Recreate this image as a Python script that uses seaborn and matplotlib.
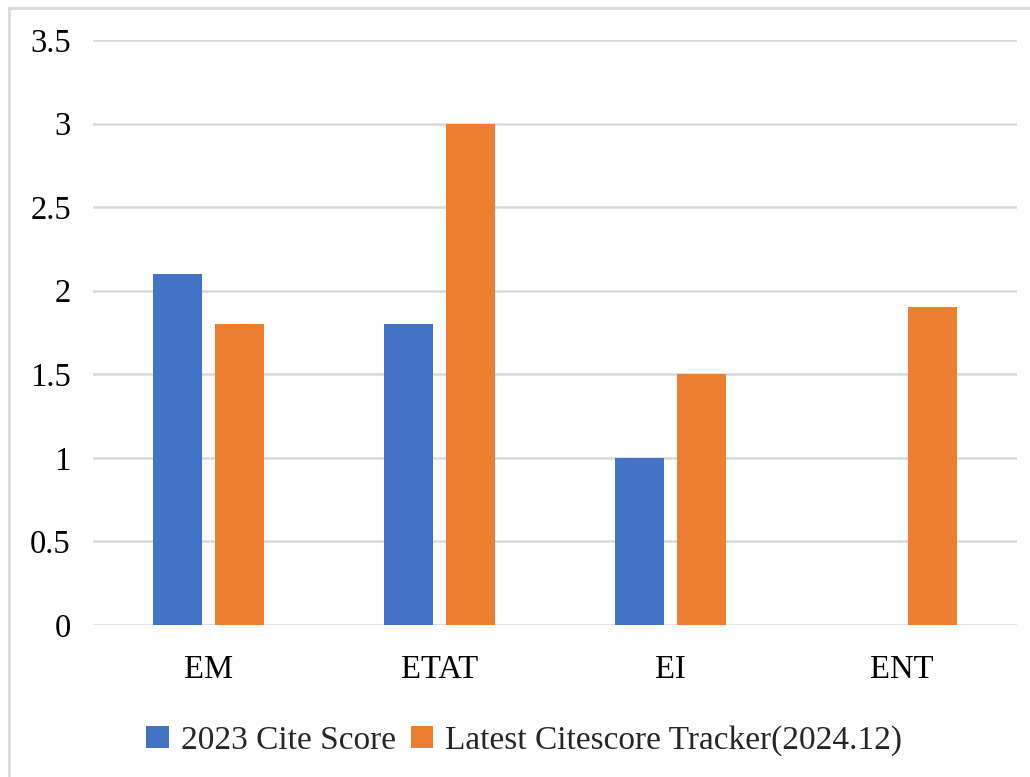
import matplotlib
matplotlib.use("Agg")
import matplotlib.pyplot as plt
import matplotlib.lines as mlines
import numpy as np
import pandas as pd
import seaborn as sns

# data
categories = ["EM", "ETAT", "EI", "ENT"]
series_names = ["2023 Cite Score", "Latest Citescore Tracker(2024.12)"]
cite_2023 = [2.1, 1.8, 1.0, np.nan]
tracker_2024 = [1.8, 3.0, 1.5, 1.9]
y_ticks = [0, 0.5, 1, 1.5, 2, 2.5, 3, 3.5]
y_tick_labels = ["0", "0.5", "1", "1.5", "2", "2.5", "3", "3.5"]

COLORS = ["#4472C4", "#ED7D31"]
GRID = "#d9d9d9"

sns.set_theme(style="white")
plt.rcParams["font.family"] = ["Liberation Serif", "DejaVu Serif"]

df = pd.DataFrame({
    "category": categories * 2,
    "series": [series_names[0]] * 4 + [series_names[1]] * 4,
    "value": cite_2023 + tracker_2024,
})

fig = plt.figure(figsize=(10.3, 7.77), dpi=100, facecolor="white")
ax = fig.add_axes([93 / 1030, 1 - 625 / 777, 924 / 1030, 585 / 777])

sns.barplot(data=df, x="category", y="value", hue="series",
            order=categories, hue_order=series_names,
            palette=COLORS, width=0.54, gap=0.21,
            saturation=1, linewidth=0, ax=ax, legend=True)

ax.set_ylim(0, 3.5)
ax.set_xlim(-0.5, 3.5)
ax.set_yticks(y_ticks)
ax.set_yticklabels(y_tick_labels)
ax.set_xlabel("")
ax.set_ylabel("")
ax.yaxis.grid(True, color=GRID, lw=1.8)
ax.set_axisbelow(True)
for s in ax.spines.values():
    s.set_visible(False)
ax.tick_params(axis="y", length=0, pad=16, labelsize=23.5, colors="black")
ax.tick_params(axis="x", length=0, pad=21, labelsize=23.5, colors="black")

handles, labels = ax.get_legend_handles_labels()
ax.get_legend().remove()
fig.legend(handles, labels, loc="center", bbox_to_anchor=(0.509, 0.047),
           ncol=2, frameon=False, fontsize=24,
           handlelength=0.68, handleheight=0.68,
           handletextpad=0.35, columnspacing=0.45, borderaxespad=0)

# outer frame of the original screenshot
fig.add_artist(mlines.Line2D([9 / 1030, 9 / 1030], [0, 1 - 8 / 777],
                             transform=fig.transFigure, color=GRID, lw=2))
fig.add_artist(mlines.Line2D([9 / 1030, 1], [1 - 8 / 777, 1 - 8 / 777],
                             transform=fig.transFigure, color=GRID, lw=2))

fig.savefig("out.png", dpi=100, facecolor="white")
